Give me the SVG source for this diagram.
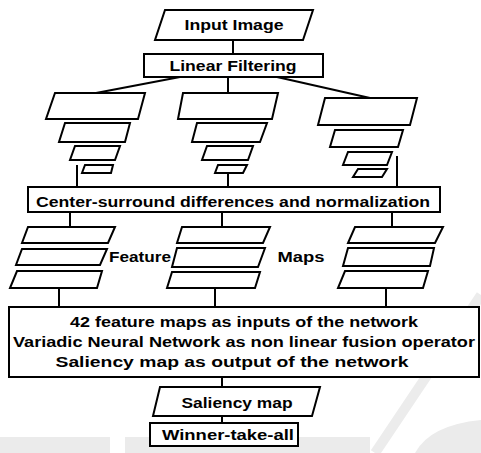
<svg xmlns="http://www.w3.org/2000/svg" width="481" height="453" viewBox="0 0 481 453">
<style>
.s{fill:#fff;stroke:#000;stroke-width:2;stroke-linejoin:miter}
.c{stroke:#000;stroke-width:2;fill:none}
.t{font-family:"Liberation Sans",Arial,sans-serif;font-weight:bold;font-size:14px;fill:#000;text-anchor:middle}
.w{fill:#ebebeb;stroke:none}
</style>
<g id="watermark">
<rect class="w" x="0" y="437" width="110" height="16"/>
<rect class="w" x="125" y="437" width="245" height="16"/>
<line x1="481" y1="295" x2="375" y2="453" stroke="#ececec" stroke-width="10"/>
<path d="M415,453 Q430,425 481,420 L481,453 Z" class="w"/>
</g>
<g id="connectors">
<line class="c" x1="233" y1="40" x2="233" y2="54"/>
<line class="c" x1="180" y1="77" x2="96" y2="93"/>
<line class="c" x1="228" y1="77" x2="228" y2="93"/>
<line class="c" x1="277" y1="77" x2="370" y2="98"/>
<line class="c" x1="77" y1="165" x2="77" y2="187"/>
<line class="c" x1="228" y1="173" x2="228" y2="187"/>
<line class="c" x1="397" y1="156" x2="397" y2="187"/>
<line class="c" x1="70" y1="212" x2="70" y2="227"/>
<line class="c" x1="222" y1="212" x2="222" y2="227"/>
<line class="c" x1="392" y1="212" x2="392" y2="227"/>
<line class="c" x1="59" y1="288" x2="59" y2="307"/>
<line class="c" x1="215" y1="288" x2="215" y2="307"/>
<line class="c" x1="386" y1="288" x2="386" y2="307"/>
<line class="c" x1="222" y1="377" x2="222" y2="387"/>
<line class="c" x1="222" y1="416" x2="222" y2="423"/>
</g>
<g id="input-image">
<polygon class="s" points="165,10 313,10 303,40 155,40"/>
<text class="t" x="234" y="30" textLength="99" lengthAdjust="spacingAndGlyphs">Input Image</text>
</g>
<g id="linear-filtering">
<rect class="s" x="144" y="54" width="179" height="23"/>
<text class="t" x="233" y="71" textLength="127" lengthAdjust="spacingAndGlyphs">Linear Filtering</text>
</g>
<g id="pyramid-left">
<polygon class="s" points="55,93 145,93 138,119 46,119"/>
<polygon class="s" points="65,123 130,123 125,142 59,142"/>
<polygon class="s" points="75,146 120,146 115,160 70,160"/>
<polygon class="s" points="85,165 113,165 111,173 82,173"/>
</g>
<g id="pyramid-center">
<polygon class="s" points="183,93 278,93 272,119 178,119"/>
<polygon class="s" points="197,123 267,123 260,142 192,142"/>
<polygon class="s" points="207,146 253,146 248,160 202,160"/>
<polygon class="s" points="218,165 247,165 243,173 215,173"/>
</g>
<g id="pyramid-right">
<polygon class="s" points="325,98 417,98 410,125 318,125"/>
<polygon class="s" points="335,130 403,130 398,147 330,147"/>
<polygon class="s" points="348,152 392,152 387,165 343,165"/>
<polygon class="s" points="358,169 387,169 382,177 353,177"/>
</g>
<g id="center-surround">
<rect class="s" x="28" y="187" width="412" height="25"/>
<text class="t" x="233" y="207" textLength="394" lengthAdjust="spacingAndGlyphs">Center-surround differences and normalization</text>
</g>
<g id="features-left">
<polygon class="s" points="28,227 115,227 108,243 22,243"/>
<polygon class="s" points="22,249 107,249 100,265 16,265"/>
<polygon class="s" points="17,271 102,271 97,288 10,288"/>
</g>
<g id="features-center">
<polygon class="s" points="182,227 270,227 263,243 177,243"/>
<polygon class="s" points="177,248 265,248 258,267 172,267"/>
<polygon class="s" points="172,272 260,272 255,288 167,288"/>
</g>
<g id="features-right">
<polygon class="s" points="355,227 443,227 435,243 348,243"/>
<polygon class="s" points="348,248 434,248 430,266 343,266"/>
<polygon class="s" points="345,271 428,271 423,288 338,288"/>
</g>
<g id="feature-maps-label">
<text class="t" x="140" y="262" textLength="62" lengthAdjust="spacingAndGlyphs">Feature</text>
<text class="t" x="301" y="262" textLength="47" lengthAdjust="spacingAndGlyphs">Maps</text>
</g>
<g id="network">
<rect class="s" x="9" y="307" width="470" height="70"/>
<text class="t" x="244" y="327" textLength="348" lengthAdjust="spacingAndGlyphs">42 feature maps as inputs of the  network</text>
<text class="t" x="244" y="347" textLength="462" lengthAdjust="spacingAndGlyphs">Variadic Neural Network as non linear fusion operator</text>
<text class="t" x="232" y="367" textLength="353" lengthAdjust="spacingAndGlyphs">Saliency map as output of the network</text>
</g>
<g id="saliency-map">
<polygon class="s" points="160,387 320,387 312,416 153,416"/>
<text class="t" x="237" y="408" textLength="111" lengthAdjust="spacingAndGlyphs">Saliency map</text>
</g>
<g id="winner-take-all">
<rect class="s" x="150" y="423" width="148" height="23"/>
<text class="t" x="228" y="440" textLength="132" lengthAdjust="spacingAndGlyphs">Winner-take-all</text>
</g>
</svg>
